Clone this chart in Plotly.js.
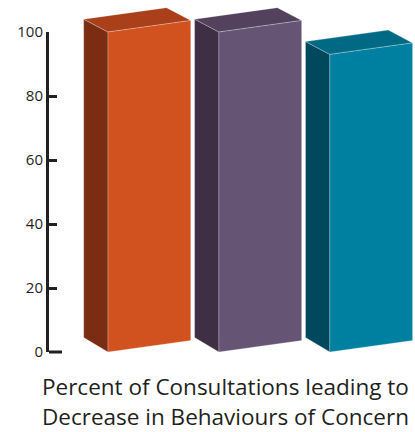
<!DOCTYPE html>
<html>
<head>
<meta charset="utf-8">
<script src="https://cdn.plot.ly/plotly-3.0.1.min.js"></script>
<style>
  html, body { margin: 0; padding: 0; background: #ffffff; }
  #chart { width: 415px; height: 432px; }
</style>
</head>
<body>
<div id="chart"></div>
<script>
// ---- data ----
const barLabels = ['Bar 1', 'Bar 2', 'Bar 3'];
const values = [100, 100, 93];
const tickValues = [0, 20, 40, 60, 80, 100];
const tickLabels = ['0', '20', '40', '60', '80', '100'];
const titleLines = ['Percent of Consultations leading to', 'Decrease in Behaviours of Concern'];

// ---- style ----
const frontColors = ['#D1521F', '#665475', '#0080A0'];
const sideColors  = ['#7A2D12', '#3E2F44', '#00485B'];
const topColors   = ['#A9401A', '#54415D', '#006A85'];
const halfW = 0.373;      // half width of front face (category units)
const depthX = -0.219;    // perspective depth offset in x
const depthYTop = 4.0;    // perspective depth offset in y at top
const depthYBottom = 4.5; // perspective depth offset in y at bottom
const skew = 3.6;         // rise of front face right edge
const edge = {color: 'rgba(255,255,255,0.35)', width: 0.7};
const ink = '#231F20';

const traces = [];
function face(pts, color, name) {
  traces.push({
    type: 'scatter', mode: 'lines', fill: 'toself',
    x: pts.map(p => p[0]), y: pts.map(p => p[1]),
    fillcolor: color, line: edge, name: name,
    hoverinfo: 'skip', showlegend: false, xaxis: 'x', yaxis: 'y'
  });
}
values.forEach((v, i) => {
  const x0 = i - halfW, x1 = i + halfW;
  face([[x0, 0], [x0, v], [x0 + depthX, v + depthYTop], [x0 + depthX, depthYBottom], [x0, 0]], sideColors[i], barLabels[i]);
  face([[x0, v], [x1, v + skew], [x1 + depthX, v + skew + depthYTop], [x0 + depthX, v + depthYTop], [x0, v]], topColors[i], barLabels[i]);
  face([[x0, 0], [x1, skew], [x1, v + skew], [x0, v], [x0, 0]], frontColors[i], barLabels[i]);
});
// anchor trace for the value axis
traces.push({type: 'scatter', mode: 'markers', x: [null], y: [null], xaxis: 'x', yaxis: 'y2',
  hoverinfo: 'skip', showlegend: false});

const xRange = [-0.905, 2.395];
const layout = {
  width: 415, height: 432,
  margin: {l: 49, r: 0, t: 0, b: 80, pad: 0},
  paper_bgcolor: '#ffffff', plot_bgcolor: 'rgba(0,0,0,0)',
  showlegend: false,
  xaxis: {domain: [0, 1], range: xRange, visible: false, fixedrange: true},
  yaxis: {domain: [0, 1], range: [0, 110], visible: false, fixedrange: true},
  yaxis2: {
    domain: [0, 100 / 110], range: [0, 100], anchor: 'x',
    tickmode: 'array', tickvals: tickValues, ticktext: tickLabels,
    ticks: 'inside', ticklen: 8, tickwidth: 3, tickcolor: ink,
    showline: true, linewidth: 3, linecolor: ink,
    showgrid: false, zeroline: false, fixedrange: true,
    tickfont: {family: 'Open Sans', size: 15, color: ink}
  },
  shapes: [
    {type: 'line', xref: 'x', yref: 'paper', x0: xRange[0], x1: -0.788, y0: 0, y1: 0,
     line: {color: ink, width: 3}}
  ],
  annotations: titleLines.map((t, k) => ({
    text: t, xref: 'paper', yref: 'paper', x: 0.482, xanchor: 'center',
    y: k === 0 ? -0.099 : -0.184, yanchor: 'middle', showarrow: false, borderpad: 0,
    font: {family: 'Open Sans', size: 22.5, color: ink}
  }))
};

Plotly.newPlot('chart', traces, layout, {staticPlot: true, displayModeBar: false});
</script>
</body>
</html>
